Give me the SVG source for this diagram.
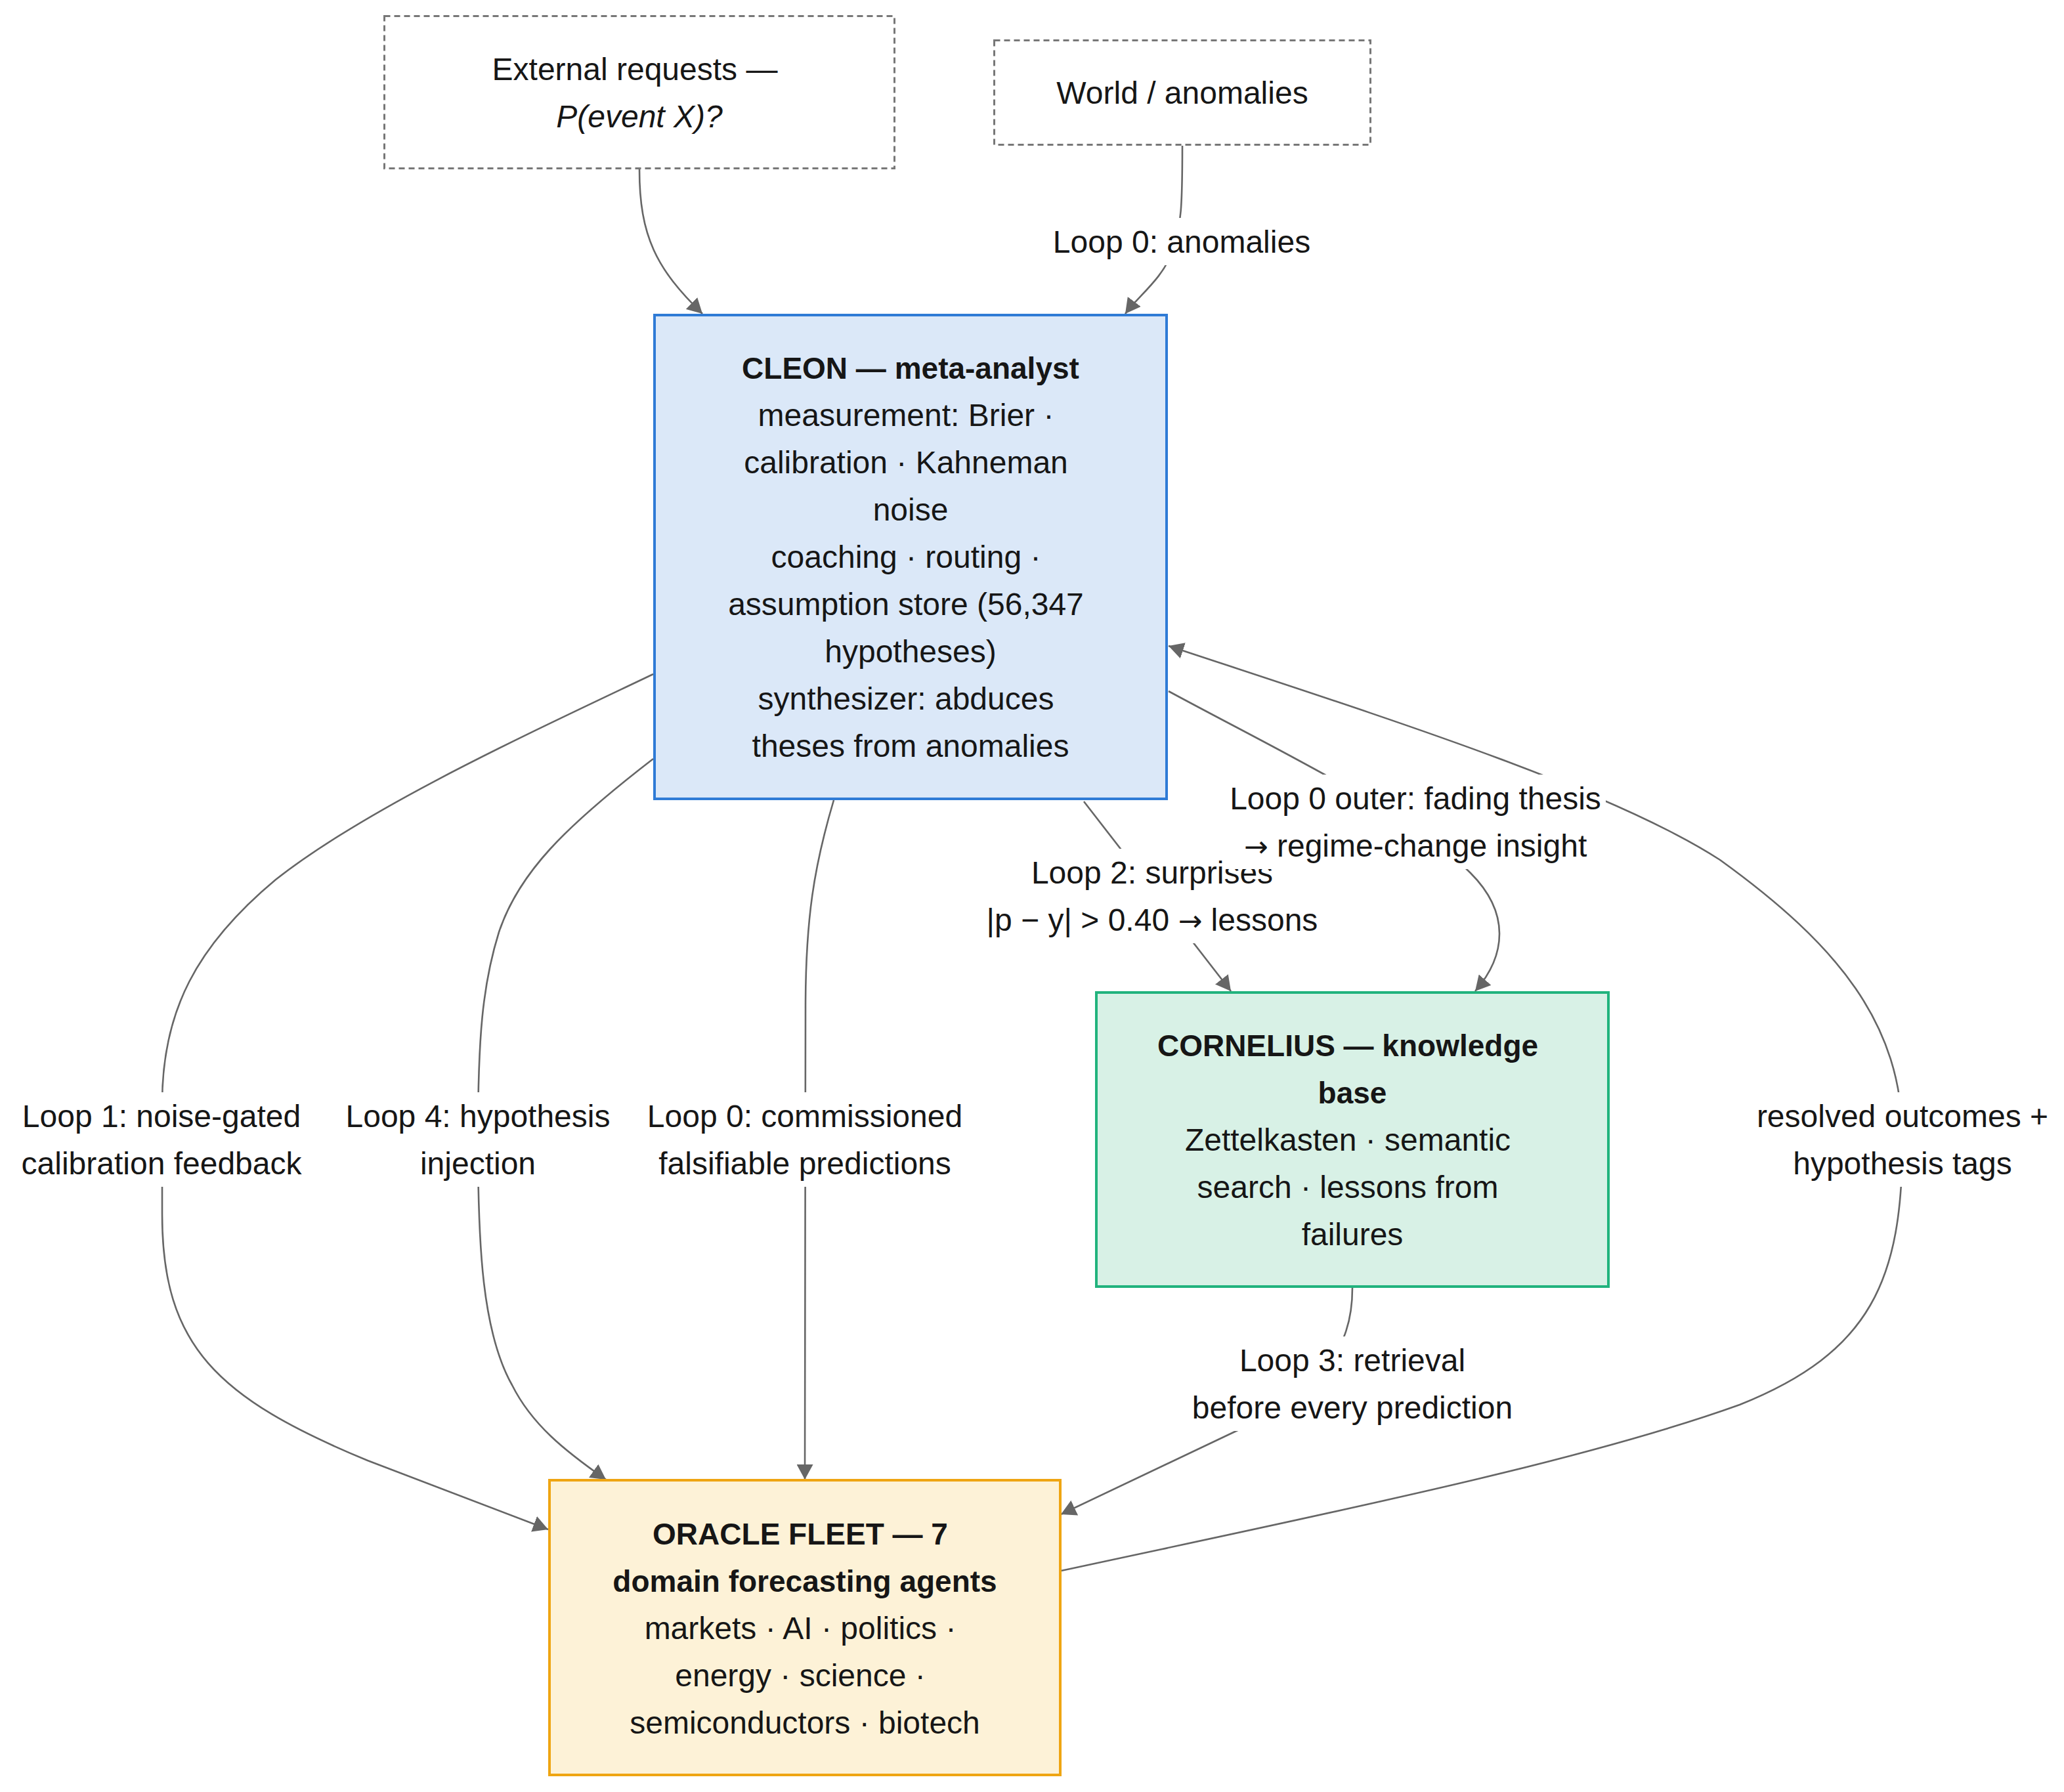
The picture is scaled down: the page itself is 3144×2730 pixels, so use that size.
<svg xmlns="http://www.w3.org/2000/svg" width="3144" height="2730" viewBox="0 0 3144 2730">
<defs>
<style>
.t{font-family:"Liberation Sans",Arial,sans-serif;font-size:48px;fill:#161616;text-anchor:middle}
.b{font-weight:bold;font-size:46px}
.i{font-style:italic}
.ar{font-family:"DejaVu Sans",sans-serif;font-size:44px}
.ext{fill:#ffffff;stroke:#777;stroke-width:3;stroke-dasharray:9 6}
.e{fill:none;stroke:#666;stroke-width:2.6}
.lb{fill:#ffffff}
</style>
<marker id="ah" viewBox="0 0 23 25" refX="23" refY="12.5" markerUnits="userSpaceOnUse" markerWidth="23" markerHeight="25" orient="auto">
<path d="M0,0 L23,12.5 L0,25 z" fill="#666"/>
</marker>
</defs>
<rect width="3144" height="2730" fill="#ffffff"/>

<g id="connectors">
<path class="e" marker-end="url(#ah)" d="M974,258 C974,360 1000,410 1070,478"/>
<path class="e" marker-end="url(#ah)" d="M1801,222 C1801,310 1800,345 1785,385 C1770,425 1735,450 1714,478"/>
<path class="e" marker-end="url(#ah)" d="M995,1027 C800,1120 560,1230 420,1340 C300,1440 247,1540 247,1680 L247,1850 C247,2050 330,2130 560,2225 L835,2330"/>
<path class="e" marker-end="url(#ah)" d="M995,1156 C860,1260 790,1330 760,1420 C735,1500 728,1580 728,1736 C728,1900 735,2030 780,2110 C810,2170 860,2210 923,2254"/>
<path class="e" marker-end="url(#ah)" d="M1270,1219 C1240,1320 1227,1400 1227,1536 L1226,2254"/>
<path class="e" marker-end="url(#ah)" d="M1651,1221 L1875,1510"/>
<path class="e" marker-end="url(#ah)" d="M1780,1053 C1950,1145 2150,1240 2240,1330 C2300,1390 2295,1455 2247,1510"/>
<path class="e" marker-end="url(#ah)" d="M1616,2393 C2000,2310 2400,2230 2650,2140 C2850,2060 2898,1950 2898,1736 C2898,1560 2800,1440 2620,1310 C2450,1200 2100,1090 1780,984"/>
<path class="e" marker-end="url(#ah)" d="M2060,1962 C2060,2060 2010,2110 1900,2172 L1616,2307"/>

<g id="label-anomalies">
<rect class="lb" x="1604" y="332" width="392" height="72"/>
<text class="t" x="1800" y="385">Loop 0: anomalies</text>
</g>
<g id="label-loop1">
<rect class="lb" x="22" y="1664" width="448" height="144"/>
<text class="t" x="246" y="1717">Loop 1: noise-gated</text>
<text class="t" x="246" y="1789">calibration feedback</text>
</g>
<g id="label-loop4">
<rect class="lb" x="526" y="1664" width="404" height="144"/>
<text class="t" x="728" y="1717">Loop 4: hypothesis</text>
<text class="t" x="728" y="1789">injection</text>
</g>
<g id="label-loop0c">
<rect class="lb" x="987" y="1664" width="478" height="144"/>
<text class="t" x="1226" y="1717">Loop 0: commissioned</text>
<text class="t" x="1226" y="1789">falsifiable predictions</text>
</g>
<g id="label-loop2">
<rect class="lb" x="1492" y="1293" width="527" height="144"/>
<text class="t" x="1755" y="1346">Loop 2: surprises</text>
<text class="t" x="1755" y="1418">|p − y| &gt; 0.40 <tspan class="ar">→</tspan> lessons</text>
</g>
<g id="label-loop0o">
<rect class="lb" x="1866" y="1180" width="580" height="144"/>
<text class="t" x="2156" y="1233">Loop 0 outer: fading thesis</text>
<text class="t" x="2156" y="1305"><tspan class="ar">→</tspan> regime-change insight</text>
</g>
<g id="label-resolved">
<rect class="lb" x="2676" y="1664" width="444" height="144"/>
<text class="t" x="2898" y="1717">resolved outcomes +</text>
<text class="t" x="2898" y="1789">hypothesis tags</text>
</g>
<g id="label-loop3">
<rect class="lb" x="1806" y="2036" width="509" height="144"/>
<text class="t" x="2060" y="2089">Loop 3: retrieval</text>
<text class="t" x="2060" y="2161">before every prediction</text>
</g>
</g>

<g id="node-external">
<rect class="ext" x="585.5" y="24.5" width="777" height="232"/>
<text class="t" x="967" y="121.5">External requests —</text>
<text class="t i" x="974" y="193.5">P(event X)?</text>
</g>

<g id="node-world">
<rect class="ext" x="1514.5" y="61.5" width="573" height="159"/>
<text class="t" x="1801" y="158">World / anomalies</text>
</g>

<g id="node-cleon">
<rect x="997" y="480" width="780" height="737" fill="#dbe8f8" stroke="#2f7bd6" stroke-width="4"/>
<text class="t b" x="1387" y="576.5">CLEON — meta-analyst</text>
<text class="t" x="1380" y="648.5">measurement: Brier ·</text>
<text class="t" x="1380" y="720.5">calibration · Kahneman</text>
<text class="t" x="1387" y="792.5">noise</text>
<text class="t" x="1380" y="864.5">coaching · routing ·</text>
<text class="t" x="1380" y="936.5">assumption store (56,347</text>
<text class="t" x="1387" y="1008.5">hypotheses)</text>
<text class="t" x="1380" y="1080.5">synthesizer: abduces</text>
<text class="t" x="1387" y="1152.5">theses from anomalies</text>
</g>

<g id="node-cornelius">
<rect x="1670" y="1512" width="780" height="448" fill="#d8f1e6" stroke="#21b37d" stroke-width="4"/>
<text class="t b" x="2053" y="1609">CORNELIUS — knowledge</text>
<text class="t b" x="2060" y="1681">base</text>
<text class="t" x="2053" y="1753">Zettelkasten · semantic</text>
<text class="t" x="2053" y="1825">search · lessons from</text>
<text class="t" x="2060" y="1897">failures</text>
</g>

<g id="node-oracle">
<rect x="837" y="2255" width="778" height="449" fill="#fdf2d7" stroke="#efa512" stroke-width="4"/>
<text class="t b" x="1219" y="2352.5">ORACLE FLEET — 7</text>
<text class="t b" x="1226" y="2424.5">domain forecasting agents</text>
<text class="t" x="1219" y="2496.5">markets · AI · politics ·</text>
<text class="t" x="1219" y="2568.5">energy · science ·</text>
<text class="t" x="1226" y="2640.5">semiconductors · biotech</text>
</g>
</svg>
